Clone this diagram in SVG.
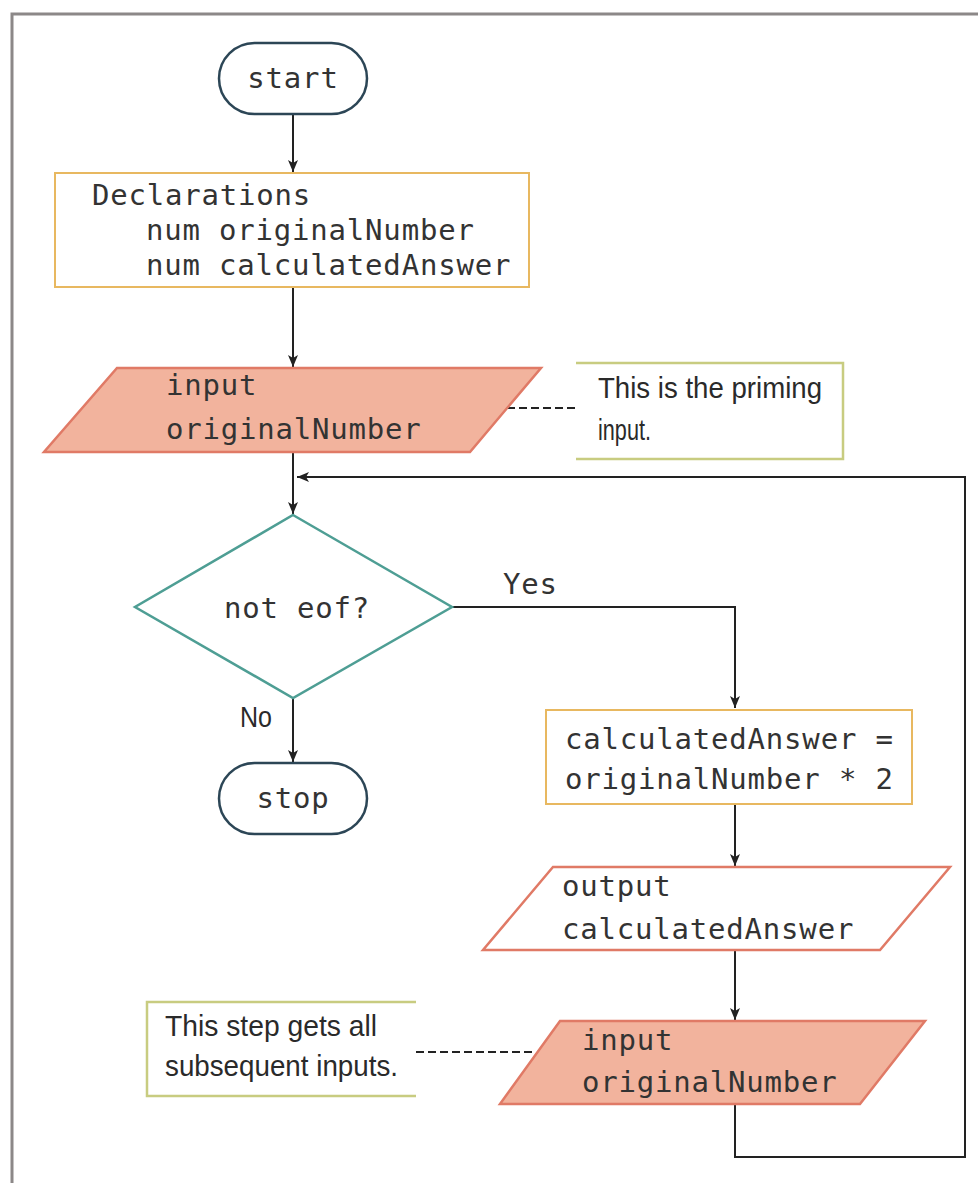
<svg xmlns="http://www.w3.org/2000/svg" width="978" height="1183" viewBox="0 0 978 1183">
  <style>
    .mono { font-family: "DejaVu Sans Mono", "Liberation Mono", monospace; font-size: 29px; letter-spacing: 0.8px; fill: #333; }
    .note { font-family: "Liberation Sans", "Noto Sans", sans-serif; font-size: 30px; fill: #2a2a2a; }
    .term { fill: #fff; stroke: #2c4656; stroke-width: 2.5; }
    .proc { fill: #fff; stroke: #e8b860; stroke-width: 2; }
    .io { fill: #f2b39d; stroke: #e07a66; stroke-width: 2.5; }
    .io-out { fill: #fff; stroke: #e07a66; stroke-width: 2.5; }
    .dec { fill: #fff; stroke: #4e9e94; stroke-width: 2.5; }
    .bracket { fill: none; stroke: #c8cc80; stroke-width: 2.5; }
    .flow { fill: none; stroke: #222; stroke-width: 2; }
    .dash { fill: none; stroke: #222; stroke-width: 2; stroke-dasharray: 8 4; }
  </style>
  <defs>
    <marker id="arrow" viewBox="0 0 12 12" refX="12" refY="6" markerWidth="12" markerHeight="12" markerUnits="userSpaceOnUse" orient="auto">
      <path d="M0,1 L12,6 L0,11 L3,6 Z" fill="#222"/>
    </marker>
  </defs>

  <rect width="978" height="1183" fill="#fff"/>
  <!-- frame -->
  <path d="M12,1183 V14 H978" fill="none" stroke="#8c8888" stroke-width="3"/>

  <g id="connectors">
    <line class="flow" x1="293" y1="114" x2="293" y2="172" marker-end="url(#arrow)"/>
    <line class="flow" x1="293" y1="287" x2="293" y2="367" marker-end="url(#arrow)"/>
    <line class="flow" x1="293" y1="452" x2="293" y2="514" marker-end="url(#arrow)"/>
    <polyline class="flow" points="452,607 735,607 735,708" marker-end="url(#arrow)"/>
    <line class="flow" x1="293" y1="698" x2="293" y2="762" marker-end="url(#arrow)"/>
    <line class="flow" x1="735" y1="804" x2="735" y2="866" marker-end="url(#arrow)"/>
    <line class="flow" x1="735" y1="950" x2="735" y2="1020" marker-end="url(#arrow)"/>
    <polyline class="flow" points="735,1104 735,1157 965,1157 965,477 297,477" marker-end="url(#arrow)"/>
    <line class="dash" x1="495" y1="408" x2="576" y2="408"/>
    <line class="dash" x1="416" y1="1052" x2="532" y2="1052"/>
    <text class="mono" x="503" y="594">Yes</text>
    <text class="note" x="240" y="727" textLength="32" lengthAdjust="spacingAndGlyphs">No</text>
  </g>

  <g id="start">
    <rect class="term" x="219" y="43" width="148" height="71" rx="35.5"/>
    <text class="mono" x="293" y="88" text-anchor="middle">start</text>
  </g>

  <g id="declarations">
    <rect class="proc" x="55" y="173" width="474" height="114"/>
    <text class="mono" x="92" y="205">Declarations</text>
    <text class="mono" x="146" y="240">num originalNumber</text>
    <text class="mono" x="146" y="275">num calculatedAnswer</text>
  </g>

  <g id="input-priming">
    <polygon class="io" points="117,368 541,368 470,452 44,452"/>
    <text class="mono" x="166" y="395">input</text>
    <text class="mono" x="166" y="439">originalNumber</text>
  </g>

  <g id="note-priming">
    <polyline class="bracket" points="576,363 843,363 843,459 576,459"/>
    <text class="note" x="598" y="398" textLength="224" lengthAdjust="spacingAndGlyphs">This is the priming</text>
    <text class="note" x="598" y="440" textLength="53" lengthAdjust="spacingAndGlyphs">input.</text>
  </g>

  <g id="decision">
    <polygon class="dec" points="293,515 452,607 293,698 135,607"/>
    <text class="mono" x="297" y="618" text-anchor="middle">not eof?</text>
  </g>

  <g id="stop">
    <rect class="term" x="219" y="763" width="148" height="71" rx="35.5"/>
    <text class="mono" x="293" y="808" text-anchor="middle">stop</text>
  </g>

  <g id="calculate">
    <rect class="proc" x="546" y="710" width="366" height="94"/>
    <text class="mono" x="565" y="749">calculatedAnswer =</text>
    <text class="mono" x="565" y="789">originalNumber * 2</text>
  </g>

  <g id="output">
    <polygon class="io-out" points="553,867 950,867 880,950 483,950"/>
    <text class="mono" x="562" y="896">output</text>
    <text class="mono" x="562" y="939">calculatedAnswer</text>
  </g>

  <g id="input-loop">
    <polygon class="io" points="560,1021 925,1021 860,1104 500,1104"/>
    <text class="mono" x="582" y="1050">input</text>
    <text class="mono" x="582" y="1092">originalNumber</text>
  </g>

  <g id="note-loop">
    <polyline class="bracket" points="416,1002 147,1002 147,1096 416,1096"/>
    <text class="note" x="165" y="1036" textLength="212" lengthAdjust="spacingAndGlyphs">This step gets all</text>
    <text class="note" x="165" y="1076" textLength="233" lengthAdjust="spacingAndGlyphs">subsequent inputs.</text>
  </g>
</svg>
